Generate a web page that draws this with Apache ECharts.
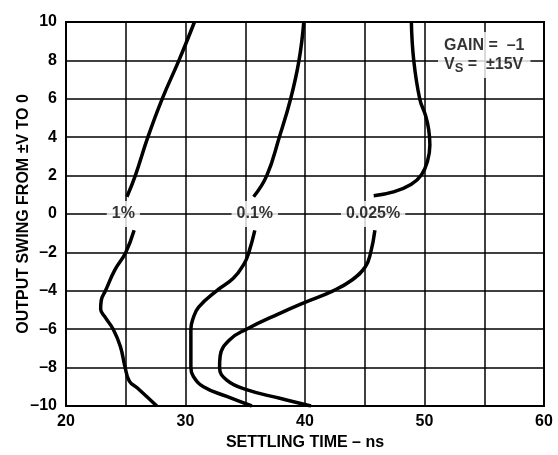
<!DOCTYPE html>
<html>
<head>
<meta charset="utf-8">
<script src="https://cdn.jsdelivr.net/npm/echarts@6/dist/echarts.min.js"></script>
<style>html,body{margin:0;padding:0;background:#fff;}#c{width:558px;height:455px;}</style>
</head>
<body>
<div id="c"></div>
<script>
// Curve data: [settling time (ns), output swing (V)]
const onePctUpper = [[25.1,0.9],[25.8,2],[26.85,4],[28.05,6],[29.45,8],[30.75,10]];
const onePctLower = [[25.7,-0.85],[25.0,-2],[24.1,-2.9],[23.3,-4],[22.95,-4.5],[22.9,-4.95],[23.3,-5.4],[23.95,-6],[24.55,-6.9],[24.95,-8],[25.3,-8.7],[25.95,-9.05],[27.6,-10]];
const pointOnePctUpper = [[35.7,0.9],[36.8,2],[37.85,4],[38.8,6],[39.5,8],[39.9,10]];
const pointOnePctLower = [[35.8,-0.85],[35.3,-2],[34.9,-2.6],[34.0,-3.35],[32.6,-4],[31.1,-4.85],[30.6,-5.5],[30.45,-6],[30.45,-8],[30.65,-8.45],[31.5,-9],[33.45,-9.5],[35.55,-10]];
const p025Upper = [[45.75,0.95],[47.4,1.15],[48.9,1.55],[49.75,2.05],[50.25,2.75],[50.45,3.6],[50.35,4.4],[50.1,5.1],[49.6,6],[49.1,8],[48.9,10]];
const p025Lower = [[45.85,-0.85],[45.5,-2],[45.05,-2.75],[43.9,-3.45],[42.35,-4],[40.0,-4.6],[37.8,-5.2],[35.1,-6],[33.7,-6.55],[32.9,-7.4],[32.85,-8],[33.45,-8.65],[35.1,-9.15],[37.9,-9.6],[40.5,-10]];
const curveLabels = ['1%', '0.1%', '0.025%'];
const curveLabelPos = [[24.8,0],[35.8,0],[45.7,0]];
const noteAnchor = [51.13, 8.28];
const xTicks = [20, 30, 40, 50, 60];
const yTicks = [-10,-8,-6,-4,-2,0,2,4,6,8,10];

const FONT = '"Liberation Sans", Arial, Helvetica, sans-serif';
const fmtNum = v => String(v).replace('-', '\u2013');

function curve(data) {
  return {
    type: 'line', data: data, smooth: 0.45, symbol: 'none',
    lineStyle: { color: '#000', width: 3.5 }, z: 3, silent: true
  };
}

const chart = echarts.init(document.getElementById('c'), null, { renderer: 'canvas' });
chart.setOption({
  animation: false,
  backgroundColor: '#fff',
  grid: { left: 66, right: 14, top: 22, bottom: 49, outerBoundsMode: 'none', containLabel: false,
    show: true, borderColor: '#000', borderWidth: 2, backgroundColor: 'transparent' },
  xAxis: {
    type: 'value', min: 20, max: 60, interval: 5,
    name: 'SETTLING TIME \u2013 ns', nameLocation: 'middle', nameGap: 29, nameMoveOverlap: false,
    nameTextStyle: { fontFamily: FONT, fontWeight: 'bold', fontSize: 16, color: '#000' },
    axisLine: { show: false }, axisTick: { show: false },
    axisLabel: { margin: 8, fontFamily: FONT, fontWeight: 'bold', fontSize: 16, color: '#000',
      formatter: v => xTicks.indexOf(v) >= 0 ? fmtNum(v) : '' },
    splitLine: { show: true, lineStyle: { color: '#000', width: 1.5 } }
  },
  yAxis: {
    type: 'value', min: -10, max: 10, interval: 2,
    name: 'OUTPUT SWING FROM \u00B1V TO 0', nameLocation: 'middle', nameGap: 34, nameMoveOverlap: false,
    nameTextStyle: { fontFamily: FONT, fontWeight: 'bold', fontSize: 16, color: '#000' },
    axisLine: { show: false }, axisTick: { show: false },
    axisLabel: { margin: 9, fontFamily: FONT, fontWeight: 'bold', fontSize: 16, color: '#000',
      formatter: v => yTicks.indexOf(v) >= 0 ? fmtNum(v) : '' },
    splitLine: { show: true, lineStyle: { color: '#000', width: 1.5 } }
  },
  series: [
    curve(onePctUpper), curve(onePctLower),
    curve(pointOnePctUpper), curve(pointOnePctLower),
    curve(p025Upper), curve(p025Lower),
    {
      type: 'scatter', symbolSize: 0, z: 2, silent: true,
      data: curveLabelPos.map((p, i) => ({ value: p, name: curveLabels[i] })),
      label: { show: true, position: 'inside', formatter: p => p.name,
        fontFamily: FONT, fontWeight: 'bold', fontSize: 16, color: '#000',
        backgroundColor: '#fff', padding: [5, 5] }
    },
    {
      type: 'scatter', symbolSize: 0, z: 2, silent: true,
      data: [{ value: noteAnchor }],
      label: { show: true, position: 'right', distance: 0,
        formatter: '{b|GAIN =  \u20131}\n{b|V}{sub|S}{b| =  \u00B115V}',
        backgroundColor: '#fff', padding: [4, 6, 4, 6],
        rich: {
          b: { fontFamily: FONT, fontWeight: 'bold', fontSize: 16, color: '#000', lineHeight: 19 },
          sub: { fontFamily: FONT, fontWeight: 'bold', fontSize: 13, color: '#000', lineHeight: 19, padding: [8, 0, 0, 0] }
        }
      }
    }
  ]
});
</script>
</body>
</html>
